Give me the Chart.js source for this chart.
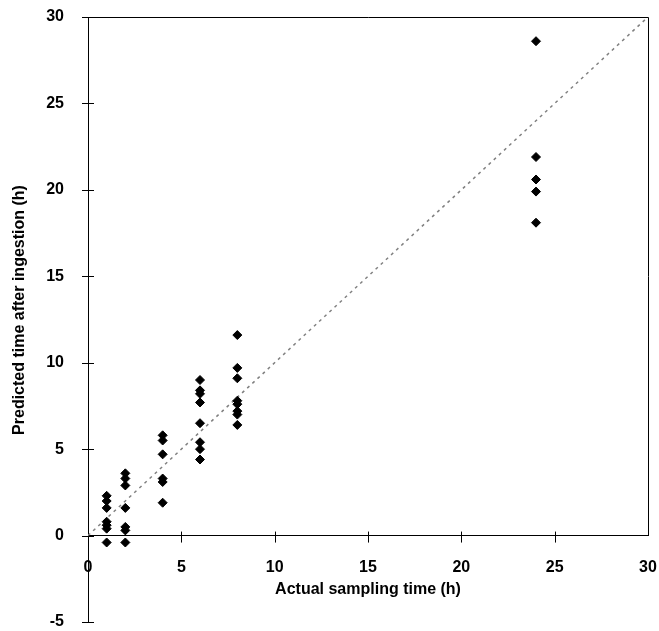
<!DOCTYPE html>
<html lang="en">
<head>
    <meta charset="UTF-8">
    <title>Predicted vs actual sampling time</title>
    <script src="https://cdn.jsdelivr.net/npm/chart.js"></script>
    <style>
        body {
            margin: 0;
            background: #fff;
        }
        #wrap {
            width: 659px;
            height: 631px;
        }
    </style>
</head>
<body>
    <div id="wrap">
        <canvas id="myChart" width="659" height="631"></canvas>
    </div>
    <script>
// sampling times (h) and the predicted times
const samplingTimes = [1, 2, 4, 6, 8, 24];
const predicted1h = [2.3, 2.0, 1.6, 0.8, 0.6, 0.4, -0.4];
const predicted2h = [3.6, 3.3, 2.9, 1.6, 0.5, 0.3, -0.4];
const predicted4h = [5.8, 5.5, 4.7, 3.3, 3.1, 1.9];
const predicted6h = [9.0, 8.4, 8.2, 7.7, 6.5, 5.4, 5.0, 4.4];
const predicted8h = [11.6, 9.7, 9.1, 7.8, 7.6, 7.2, 7.0, 6.4];
const predicted24h = [28.6, 21.9, 20.6, 19.9, 18.1];
const lineOfIdentity = [0, 30];
const xTicks = [0, 5, 10, 15, 20, 25, 30];
const yTicks = [-5, 0, 5, 10, 15, 20, 25, 30];

const predictedByTime = [predicted1h, predicted2h, predicted4h, predicted6h, predicted8h, predicted24h];
const scatterPoints = [];
samplingTimes.forEach((t, i) => {
    predictedByTime[i].forEach(v => scatterPoints.push({ x: t, y: v }));
});

Chart.defaults.font.family = '"Liberation Sans", Arial, sans-serif';
Chart.defaults.font.weight = 'bold';
Chart.defaults.font.size = 16;
Chart.defaults.color = '#000';

// box on top/right, crossing tick marks and the y title
const framePlugin = {
    id: 'frame',
    afterDraw(chart) {
        const ctx = chart.ctx;
        const xs = chart.scales.x, ys = chart.scales.y;
        const left = xs.getPixelForValue(0);
        const right = xs.getPixelForValue(30);
        const top = ys.getPixelForValue(30);
        const y0 = ys.getPixelForValue(0);
        ctx.save();
        ctx.strokeStyle = '#000';
        ctx.lineWidth = 1;
        ctx.beginPath();
        ctx.moveTo(left, top + 0.5);
        ctx.lineTo(right + 0.5, top + 0.5);
        ctx.lineTo(right + 0.5, y0);
        yTicks.forEach(v => {
            const p = Math.round(ys.getPixelForValue(v)) + 0.5;
            ctx.moveTo(left - 6, p);
            ctx.lineTo(left + 6, p);
        });
        xTicks.slice(1, -1).forEach(v => {
            const p = Math.round(xs.getPixelForValue(v)) + 0.5;
            ctx.moveTo(p, y0 - 4);
            ctx.lineTo(p, y0 + 7);
        });
        ctx.stroke();

        ctx.translate(20, 310);
        ctx.rotate(-Math.PI / 2);
        ctx.font = 'bold 16px "Liberation Sans", Arial, sans-serif';
        ctx.fillStyle = '#000';
        ctx.textAlign = 'center';
        ctx.textBaseline = 'middle';
        ctx.fillText('Predicted time after ingestion (h)', 0, 0);
        ctx.restore();
    }
};

const ctx = document.getElementById('myChart').getContext('2d');
const myChart = new Chart(ctx, {
    type: 'scatter',
    data: {
        datasets: [{
            label: 'Predicted',
            data: scatterPoints,
            pointStyle: 'rectRot',
            pointRadius: 4.5,
            pointBackgroundColor: '#000',
            pointBorderColor: '#000',
            pointBorderWidth: 1,
            order: 1
        }, {
            type: 'line',
            label: 'Identity',
            data: lineOfIdentity.map(v => ({ x: v, y: v })),
            borderColor: '#808080',
            borderWidth: 1.5,
            borderDash: [3, 4],
            pointRadius: 0,
            fill: false,
            order: 2
        }]
    },
    options: {
        responsive: false,
        animation: false,
        layout: {
            padding: { top: 17, right: 11, bottom: 9, left: 0 }
        },
        plugins: {
            legend: { display: false },
            tooltip: { enabled: false }
        },
        scales: {
            x: {
                type: 'linear',
                position: { y: 0 },
                min: 0,
                max: 30,
                afterBuildTicks: (s) => { s.ticks = xTicks.map(v => ({ value: v })); },
                afterFit: (s) => {
                    s.paddingLeft = 0;
                    s.paddingRight = 0;
                    s.height = 64;
                },
                ticks: { padding: 14 },
                grid: { display: false },
                border: { color: '#000', width: 1 },
                title: {
                    display: true,
                    text: 'Actual sampling time (h)',
                    padding: { top: 0, bottom: 0 }
                }
            },
            y: {
                type: 'linear',
                min: -5,
                max: 30,
                afterBuildTicks: (s) => { s.ticks = yTicks.map(v => ({ value: v })); },
                afterFit: (s) => {
                    s.width = 88;
                    s.paddingTop = 0;
                    s.paddingBottom = 0;
                },
                ticks: { padding: 16 },
                grid: { display: false },
                border: { color: '#000', width: 1 }
            }
        }
    },
    plugins: [framePlugin]
});
</script>
</body>
</html>
